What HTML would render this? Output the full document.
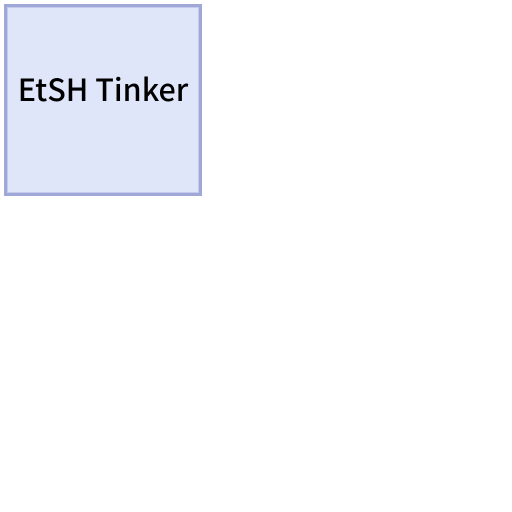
<!DOCTYPE html>
<html><head><style>
html,body{margin:0;padding:0;background:#fff;width:512px;height:512px;overflow:hidden}
.box{position:absolute;left:4px;top:4px;width:192px;height:186px;background:#e0e6fa;border:3px solid #a0a8d8;box-shadow:inset 0 0 0 1px #c4caec}
.t{position:absolute;left:0;width:206px;top:66px;text-align:center;font-family:"Noto Sans CJK JP","DejaVu Sans",sans-serif;font-size:30.5px;font-weight:500;line-height:44px;color:#000;white-space:nowrap}
</style></head><body>
<div class="box"></div>
<div class="t">EtSH Tinker</div>
</body></html>
